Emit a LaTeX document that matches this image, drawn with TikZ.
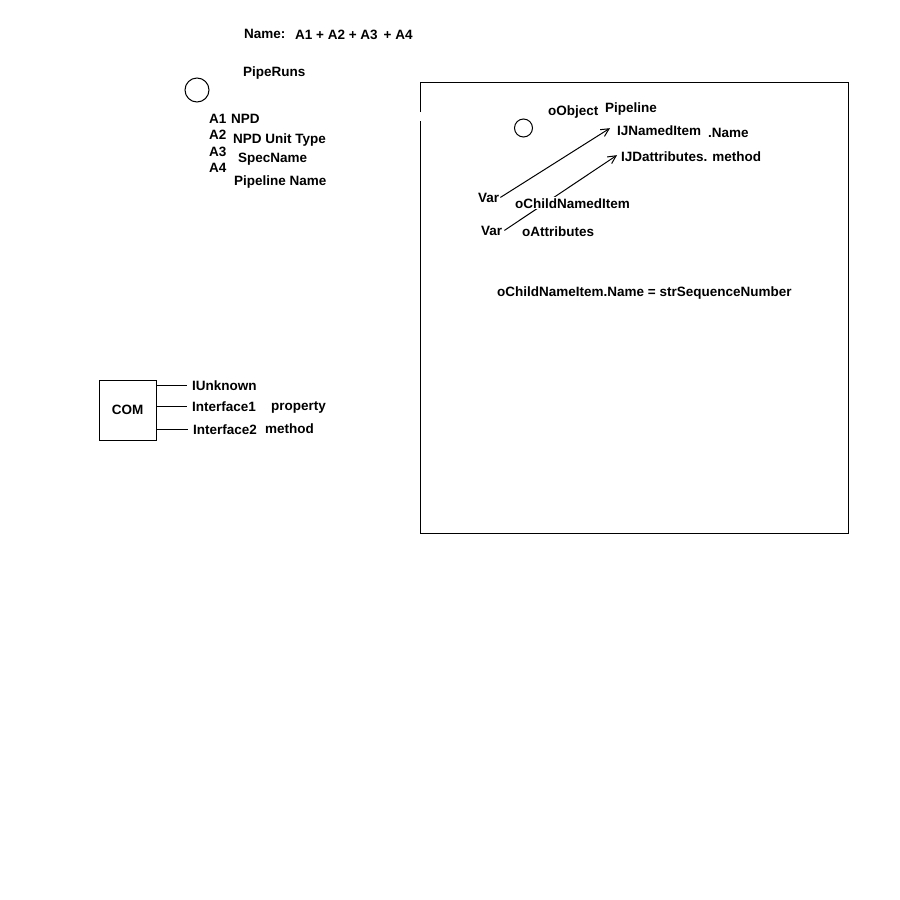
\documentclass[tikz,border=0pt]{standalone}
\usepackage{fontspec}
\setmainfont{Liberation Sans}
\usetikzlibrary{arrows.meta,backgrounds}
\tikzset{
lbl/.style={anchor=base west,inner sep=1pt,fill=white,font=\fontsize{13.5}{16}\selectfont\bfseries},
ring/.style={draw,circle,inner sep=0pt,line width=1pt},
outerbox/.style={draw,line width=1pt},
combox/.style={draw,line width=1pt,minimum width=57pt,minimum height=60pt,inner sep=0pt,font=\fontsize{13.5}{16}\selectfont\bfseries},
wire/.style={line width=1pt},
barb/.style={-{Straight Barb[length=8pt,width=8pt]},line width=1pt}
}
\begin{document}
\begin{tikzpicture}[x=1pt,y=-1pt]
\useasboundingbox (0,0) rectangle (900,900);
% name of a pipe run
\node[lbl] (nameLbl) at (243,38) {Name:};
\node[lbl] (nameSum) at (294,39) {A1 + A2 + A3 \,+ A4};
\node[lbl] (pipeRuns) at (242,76) {PipeRuns};
\node[ring,minimum size=24pt] (runRing) at (197,90) {};
\node[lbl] (aOne) at (208,123) {A1};
\node[lbl] (aTwo) at (208,139) {A2};
\node[lbl] (aThree) at (208,156) {A3};
\node[lbl] (aFour) at (208,172) {A4};
\node[lbl] (npd) at (230,123) {NPD};
\node[lbl] (npdUnit) at (232,143) {NPD Unit Type};
\node[lbl] (specName) at (237,162) {SpecName};
\node[lbl] (pipeName) at (233,185) {Pipeline Name};
% COM object
\node[combox] (com) at (127.5,410) {COM};
\node[lbl] (iunk) at (191,390) {IUnknown};
\node[lbl] (ifOne) at (191,411) {Interface1};
\node[lbl] (ifTwo) at (192,434) {Interface2};
\node[lbl] (prop) at (270,410) {property};
\node[lbl] (meth) at (264,433) {method};
\draw[wire] (com.east |- iunk.west) -- ([xshift=-4pt]iunk.west);
\draw[wire] (com.east |- ifOne.west) -- ([xshift=-4pt]ifOne.west);
\draw[wire] (com.east |- ifTwo.west) -- ([xshift=-4pt]ifTwo.west);
% code panel
\draw[outerbox] (420,112) -- (420,82) -- (848,82) -- (848,533) -- (420,533) -- (420,121);
\node[ring,minimum size=18pt] (objRing) at (523.5,128) {};
\node[lbl] (oObject) at (547,115) {oObject};
\node[lbl] (pipeline) at (604,112) {Pipeline};
\node[lbl] (ijNamed) at (616,135) {IJNamedItem};
\node[lbl] (dotName) at (707,137) {.Name};
\node[lbl] (ijAttr) at (620,161) {IJDattributes. method};
\node[lbl] (varOne) at (477,202) {Var};
\node[lbl] (oChild) at (514,208) {oChildNamedItem};
\node[lbl] (varTwo) at (480,235) {Var};
\node[lbl] (oAttr) at (521,236) {oAttributes};
\node[lbl] (assign) at (496,296) {oChildNameItem.Name = strSequenceNumber};
\begin{scope}[on background layer]
\draw[barb] (varOne.east) -- ([shift={(-6pt,2pt)}]ijNamed.west);
\draw[barb] ([xshift=1pt]varTwo.east) -- ([shift={(-3pt,1pt)}]ijAttr.west);
\end{scope}
\end{tikzpicture}
\end{document}
